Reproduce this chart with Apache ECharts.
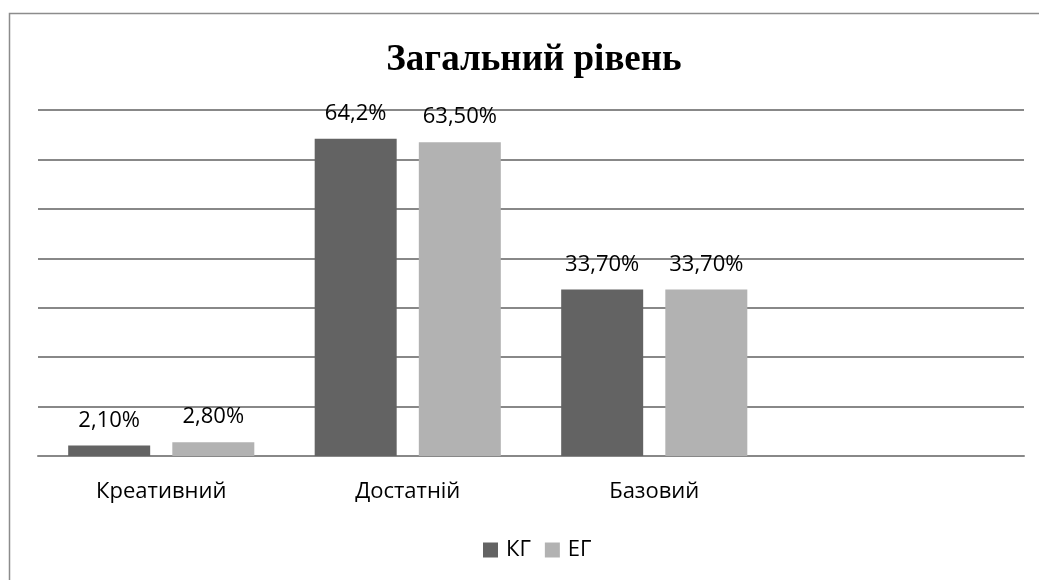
<!DOCTYPE html>
<html>
<head>
<meta charset="utf-8">
<script src="https://cdn.jsdelivr.net/npm/echarts@6/dist/echarts.min.js"></script>
<style>
  html, body { margin: 0; padding: 0; background: #fff; }
  #chart { width: 1039px; height: 580px; }
</style>
</head>
<body>
<div id="chart"></div>
<script>
// categories (the 4th slot is empty in the original)
var categories = ['Креативний', 'Достатній', 'Базовий', ''];
var kgValues = [2.1, 64.2, 33.7, null];
var egValues = [2.8, 63.5, 33.7, null];
var kgLabels = ['2,10%', '64,2%', '33,70%', ''];
var egLabels = ['2,80%', '63,50%', '33,70%', ''];

var chart = echarts.init(document.getElementById('chart'));

function labelFor(list) {
    return {
        show: true,
        position: 'top',
        distance: 14,
        color: '#000',
        fontFamily: 'Open Sans',
        fontSize: 22,
        formatter: function (p) { return list[p.dataIndex]; }
    };
}

var option = {
    backgroundColor: '#fff',
    animation: false,
    title: {
        text: 'Загальний рівень',
        left: 529,
        textAlign: 'center',
        top: 37,
        textStyle: {
            fontFamily: 'Liberation Serif',
            fontWeight: 'bold',
            fontSize: 37,
            color: '#000'
        }
    },
    graphic: [{
        type: 'rect',
        shape: { x: 9.5, y: 13.5, width: 1100, height: 700 },
        style: { fill: 'none', stroke: '#8c8c8c', lineWidth: 1.5 },
        silent: true
    }],
    legend: {
        left: 478,
        top: 534,
        itemWidth: 15,
        itemHeight: 15,
        itemGap: 14,
        icon: 'rect',
        textStyle: { fontFamily: 'Open Sans', fontSize: 22, color: '#000', padding: [0, 0, 0, 3] },
        data: ['КГ', 'ЕГ']
    },
    grid: { left: 38, right: 15, top: 110, bottom: 124, containLabel: false },
    xAxis: {
        type: 'category',
        data: categories,
        axisTick: { show: false },
        axisLine: { lineStyle: { color: '#888', width: 2 } },
        axisLabel: {
            margin: 25,
            color: '#000',
            fontFamily: 'Open Sans',
            fontSize: 22
        }
    },
    yAxis: {
        type: 'value',
        min: 0,
        max: 70,
        interval: 10,
        axisLabel: { show: false },
        axisLine: { show: false },
        axisTick: { show: false },
        splitLine: { lineStyle: { color: '#888', width: 2 } }
    },
    series: [{
        name: 'КГ',
        type: 'bar',
        data: kgValues,
        barWidth: 82,
        barGap: '27%',
        itemStyle: { color: '#636363' },
        label: labelFor(kgLabels)
    }, {
        name: 'ЕГ',
        type: 'bar',
        data: egValues,
        barWidth: 82,
        itemStyle: { color: '#b2b2b2' },
        label: labelFor(egLabels)
    }]
};

chart.setOption(option);
</script>
</body>
</html>
